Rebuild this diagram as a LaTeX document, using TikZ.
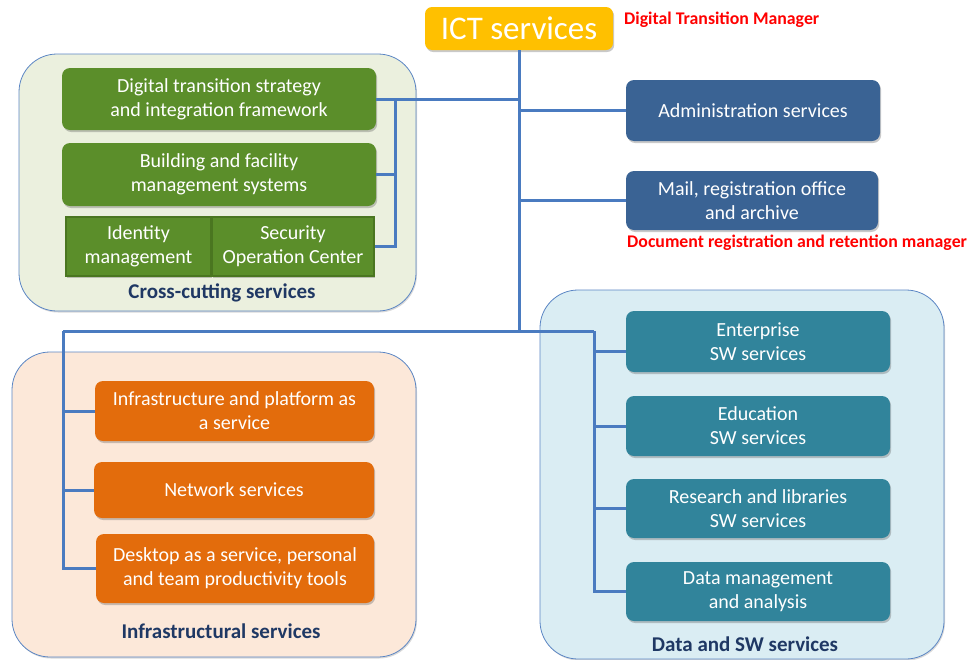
\documentclass[tikz,border=0pt]{standalone}
\usepackage{fontspec}
\setmainfont{Carlito}
\usetikzlibrary{shadows}
\definecolor{gold}{HTML}{FFC000}
\definecolor{grn}{HTML}{5B8E2A}
\definecolor{grnline}{HTML}{4A7620}
\definecolor{crossfill}{HTML}{EBF0DE}
\definecolor{grpline}{HTML}{5B86C4}
\definecolor{admblue}{HTML}{3A6394}
\definecolor{orng}{HTML}{E36C0C}
\definecolor{infrafill}{HTML}{FCE8D9}
\definecolor{teal}{HTML}{31849B}
\definecolor{datafill}{HTML}{DAEDF3}
\definecolor{conn}{HTML}{4A7BC0}
\definecolor{navy}{HTML}{1F3864}
\definecolor{redtxt}{HTML}{FF0000}
\begin{document}
\begin{tikzpicture}[x=1pt,y=-1pt,
  shad/.style={drop shadow={shadow xshift=1.2pt,shadow yshift=-2pt,opacity=0.3,fill=black!70}},
  box/.style={shad,rounded corners=8pt,inner sep=0pt,align=center,text=white,
    font=\fontsize{20}{24}\selectfont},
  gbox/.style={box,fill=grn},
  sqbox/.style={shad,inner sep=0pt,align=center,text=white,fill=grn,draw=grnline,line width=2pt,
    font=\fontsize{20}{24}\selectfont},
  bbox/.style={box,fill=admblue},
  obox/.style={box,fill=orng},
  tbox/.style={box,fill=teal},
  grp/.style={rounded corners=38pt,draw=grpline,line width=0.8pt,inner sep=0pt,
    drop shadow={shadow xshift=1pt,shadow yshift=-1.5pt,opacity=0.25,fill=black!60}},
  lbl/.style={text=navy,font=\bfseries\fontsize{21}{24}\selectfont,inner sep=0pt},
  rlbl/.style={text=redtxt,font=\bfseries\fontsize{17.8}{20}\selectfont,inner sep=0pt,anchor=west},
  cn/.style={draw=conn,line width=3pt}]
\useasboundingbox (0,0) rectangle (968,659);
\clip (0,0) rectangle (968,659);
% groups
\node[grp,fill=crossfill,minimum width=397pt,minimum height=257pt] (gcross) at (217.5,182.5) {};
\node[grp,fill=infrafill,minimum width=404pt,minimum height=305pt] (ginfra) at (214,504.5) {};
\node[grp,fill=datafill,minimum width=404pt,minimum height=369pt] (gdata) at (742,474.5) {};
\node[lbl] (lcross) at (222,293) {Cross-cutting services};
\node[lbl] (linfra) at (221,631) {Infrastructural services};
\node[lbl] (ldata) at (745,644) {Data and SW services};
% top
\node[box,fill=gold,minimum width=188pt,minimum height=43pt,rounded corners=7pt,
  font=\fontsize{33}{36}\selectfont] (ict) at (519,28.5) {ICT services};
\node[rlbl] (dtm) at (624,20) {Digital Transition Manager};
% cross-cutting
\node[gbox,minimum width=314pt,minimum height=62pt] (dts) at (219,99) {Digital transition strategy\\and integration framework};
\node[gbox,minimum width=314pt,minimum height=63pt] (bfm) at (219,174.5) {Building and facility\\management systems};
\node[sqbox,minimum width=145pt,minimum height=59pt] (idm) at (138.5,246.5) {Identity\\management};
\node[sqbox,minimum width=162pt,minimum height=59pt] (soc) at (293,246.5) {Security\\Operation Center};
% admin
\node[bbox,minimum width=254pt,minimum height=61pt] (adm) at (753,110.5) {Administration services};
\node[bbox,minimum width=252pt,minimum height=59pt] (mail) at (752,200.5) {Mail, registration office\\and archive};
\node[rlbl] (drm) at (627,243) {Document registration and retention manager};
% infra
\node[obox,minimum width=279pt,minimum height=60pt] (iaas) at (234.5,411) {Infrastructure and platform as\\a service};
\node[obox,minimum width=280pt,minimum height=56pt] (net) at (234,490) {Network services};
\node[obox,minimum width=278pt,minimum height=69pt] (daas) at (235,568.5) {Desktop as a service, personal\\and team productivity tools};
% data
\node[tbox,minimum width=264pt,minimum height=61pt] (ent) at (758,341.5) {Enterprise\\SW services};
\node[tbox,minimum width=264pt,minimum height=60pt] (edu) at (758,426) {Education\\SW services};
\node[tbox,minimum width=264pt,minimum height=59pt] (res) at (758,508.5) {Research and libraries\\SW services};
\node[tbox,minimum width=264pt,minimum height=59pt] (dma) at (758,591.5) {Data management\\and analysis};
% connectors
\coordinate (j) at (520,331);
\coordinate (L) at (63,331);
\coordinate (R) at (594,331);
\coordinate (cc) at (395,0);
\draw[cn] (ict.south) -- (ict.south |- j);
\draw[cn] (L) -- (R);
\draw[cn] (ict.south |- adm.west) -- (adm.west);
\draw[cn] (ict.south |- mail.west) -- (mail.west);
\draw[cn] (dts.east) -- (ict.south |- dts.east);
\draw[cn] (cc |- dts.east) |- (soc.east);
\draw[cn] (bfm.east) -- (cc |- bfm.east);
\draw[cn] (L) |- (daas.west);
\draw[cn] (L |- iaas.west) -- (iaas.west);
\draw[cn] (L |- net.west) -- (net.west);
\draw[cn] (R) |- (dma.west);
\draw[cn] (R |- ent.west) ++(0,10) -- ([yshift=-10pt]ent.west);
\draw[cn] (R |- edu.west) -- (edu.west);
\draw[cn] (R |- res.west) -- (res.west);
\end{tikzpicture}
\end{document}
